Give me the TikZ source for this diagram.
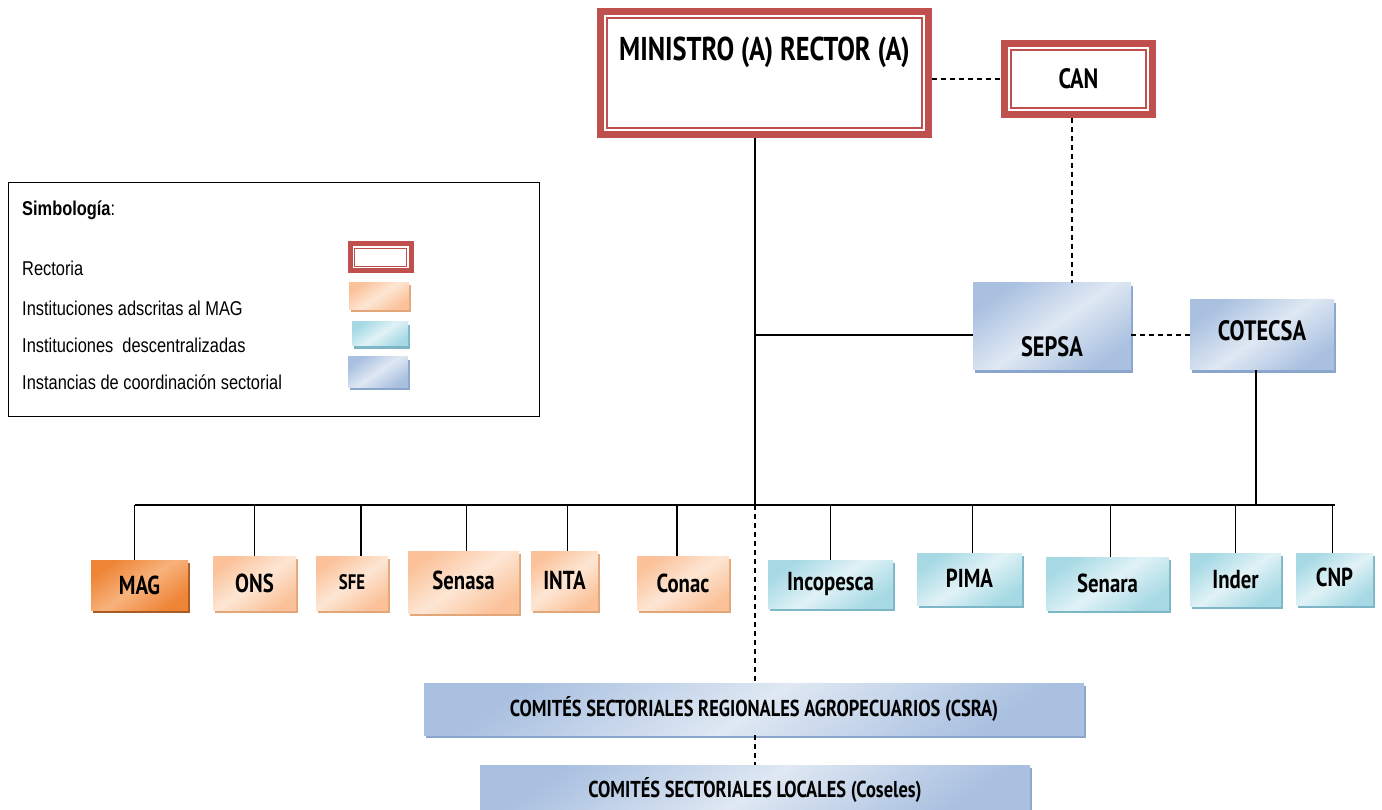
\documentclass[tikz,border=0pt]{standalone}
\usepackage{fontspec}
\setmainfont{PT Sans}
\newfontfamily\boxfont[FakeStretch=0.8]{PT Sans}
\newfontfamily\legfont[FakeStretch=0.82]{Liberation Sans}
\usetikzlibrary{shadows}
\definecolor{redc}{HTML}{C0504D}
\definecolor{blueA}{HTML}{A9C0E0}
\definecolor{blueL}{HTML}{DFE8F3}
\definecolor{blueD}{HTML}{8AA6CC}
\definecolor{cyanA}{HTML}{A6D9E4}
\definecolor{cyanL}{HTML}{E0F2F6}
\definecolor{cyanD}{HTML}{7DB6C6}
\definecolor{orA}{HTML}{FBC29A}
\definecolor{orL}{HTML}{FDE6D4}
\definecolor{orD}{HTML}{E3A678}
\definecolor{magA}{HTML}{EE8436}
\definecolor{magL}{HTML}{F8B27C}
\definecolor{magD}{HTML}{A85C24}
\tikzset{
  rector/.style={draw=redc, line width=7pt, fill=white, inner sep=0pt,
    path picture={\draw[redc,line width=1.5pt]
      ([shift={(6.5pt,-6.5pt)}]path picture bounding box.north west) rectangle
      ([shift={(-6.5pt,6.5pt)}]path picture bounding box.south east);}},
  rectsw/.style={draw=redc, line width=5pt, fill=white, inner sep=0pt,
    path picture={\draw[redc,line width=1.2pt]
      ([shift={(4.6pt,-4.6pt)}]path picture bounding box.north west) rectangle
      ([shift={(-4.6pt,4.6pt)}]path picture bounding box.south east);}},
  bx/.style={rectangle, inner sep=0pt, text=black,
    font=\boxfont\bfseries\fontsize{26}{28}\selectfont},
  bluebox/.style={bx, left color=blueA, right color=blueA, middle color=blueL, shading angle=35,
    drop shadow={shadow xshift=2pt, shadow yshift=-3pt, fill=blueD, opacity=1}},
  cyanbox/.style={bx, left color=cyanA, right color=cyanA, middle color=cyanL, shading angle=35,
    drop shadow={shadow xshift=2pt, shadow yshift=-3pt, fill=cyanD, opacity=1}},
  orbox/.style={bx, left color=orA, right color=orA, middle color=orL, shading angle=35,
    drop shadow={shadow xshift=2pt, shadow yshift=-3pt, fill=orD, opacity=1}},
  magbox/.style={bx, left color=magA, right color=magA, middle color=magL, shading angle=35,
    drop shadow={shadow xshift=2pt, shadow yshift=-3pt, fill=magD, opacity=1}},
  link/.style={line width=1.8pt, black},
  dlink/.style={line width=1.6pt, black, dashed, dash pattern=on 5pt off 4pt},
  legtext/.style={anchor=west, inner sep=0pt, font=\legfont\fontsize{20}{22}\selectfont},
}
\begin{document}
\begin{tikzpicture}[x=1pt,y=-1pt]
\useasboundingbox (0,0) rectangle (1382,810);
\fill[white] (0,0) rectangle (1382,810);

% top
\node[rector, minimum width=328pt, minimum height=123pt,
  label={[anchor=center, yshift=-44pt, font=\boxfont\bfseries\fontsize{33}{35}\selectfont]north:{MINISTRO (A) RECTOR (A)}}]
  (min) at (764.5,73) {};
\node[rector, minimum width=148pt, minimum height=71pt, font=\boxfont\bfseries\fontsize{28}{30}\selectfont]
  (can) at (1078.5,79) {CAN};

\node[bluebox, minimum width=158pt, minimum height=87pt,
  label={[anchor=center, yshift=23pt, font=\boxfont\bfseries\fontsize{28}{30}\selectfont]south:{SEPSA}}]
  (sepsa) at (1052,326.5) {};
\node[bluebox, minimum width=144pt, minimum height=70pt, font=\boxfont\bfseries\fontsize{28}{30}\selectfont]
  (cotecsa) at (1262,335) {\raisebox{8pt}{COTECSA}};

% bottom row
\node[magbox, minimum width=97pt, minimum height=50pt] (mag) at (139.5,585) {\raisebox{-3pt}{MAG}};
\node[orbox, minimum width=83pt, minimum height=54pt] (ons) at (254.5,583) {ONS};
\node[orbox, minimum width=72pt, minimum height=54pt, font=\boxfont\bfseries\fontsize{21}{23}\selectfont] (sfe) at (352,583) {\raisebox{2pt}{SFE}};
\node[orbox, minimum width=111pt, minimum height=62pt] (senasa) at (463.5,582) {\raisebox{4pt}{Senasa}};
\node[orbox, minimum width=67pt, minimum height=59pt] (inta) at (564.5,580.5) {INTA};
\node[orbox, minimum width=92pt, minimum height=54pt] (conac) at (683,583) {\raisebox{-1pt}{Conac}};
\node[cyanbox, minimum width=125pt, minimum height=48pt] (incopesca) at (830.5,584) {Incopesca};
\node[cyanbox, minimum width=105pt, minimum height=52pt] (pima) at (969.5,579) {\raisebox{2pt}{PIMA}};
\node[cyanbox, minimum width=123pt, minimum height=53pt] (senara) at (1107.5,583.5) {Senara};
\node[cyanbox, minimum width=91pt, minimum height=53pt] (inder) at (1235.5,579.5) {Inder};
\node[cyanbox, minimum width=77pt, minimum height=52pt] (cnp) at (1334.5,579) {\raisebox{3pt}{CNP}};

\node[bluebox, minimum width=660pt, minimum height=52pt, font=\boxfont\bfseries\fontsize{23}{25}\selectfont]
  (csra) at (754,709) {COMITÉS SECTORIALES REGIONALES AGROPECUARIOS (CSRA)};
\node[bluebox, minimum width=550pt, minimum height=50pt, font=\boxfont\bfseries\fontsize{23}{25}\selectfont]
  (coseles) at (755,790) {COMITÉS SECTORIALES LOCALES (Coseles)};

% coordinates on the spine
\coordinate (spinebus) at (755,505);
\coordinate (spinemid) at (755,335);

% connectors
\draw[dlink] (min.east |- can.west) -- (can.west);
\draw[dlink] ([xshift=-6.5pt]can.south) -- ([xshift=-6.5pt]can.south |- sepsa.north);
\draw[dlink] (cotecsa.west -| sepsa.east) -- (cotecsa.west);
\draw[link] (min.south -| spinebus) -- (spinebus);
\draw[link] (spinemid) -- (spinemid -| sepsa.west);
\draw[link] ([xshift=-6pt]cotecsa.south) -- ([xshift=-6pt]cotecsa.south |- spinebus);
\draw[link] ([xshift=-5pt]mag.north |- spinebus) -- (cnp.north |- spinebus);
\draw[link] ([xshift=-5pt]mag.north |- spinebus) -- ([xshift=-5pt]mag.north);
\draw[link] (ons.north |- spinebus) -- (ons.north);
\draw[link] ([xshift=9pt]sfe.north |- spinebus) -- ([xshift=9pt]sfe.north);
\draw[link] ([xshift=3pt]senasa.north |- spinebus) -- ([xshift=3pt]senasa.north);
\draw[link] ([xshift=3pt]inta.north |- spinebus) -- ([xshift=3pt]inta.north);
\draw[link] ([xshift=-6pt]conac.north |- spinebus) -- ([xshift=-6pt]conac.north);
\draw[link] (incopesca.north |- spinebus) -- (incopesca.north);
\draw[link] ([xshift=3pt]pima.north |- spinebus) -- ([xshift=3pt]pima.north);
\draw[link] ([xshift=3pt]senara.north |- spinebus) -- ([xshift=3pt]senara.north);
\draw[link] (inder.north |- spinebus) -- (inder.north);
\draw[link] ([xshift=-2pt]cnp.north |- spinebus) -- ([xshift=-2pt]cnp.north);
\draw[dlink] (spinebus) -- (csra.north -| spinebus);
\draw[dlink] (csra.south -| spinebus) -- (coseles.north -| spinebus);

% legend
\node[draw=black, line width=1.5pt, minimum width=531pt, minimum height=234pt, inner sep=0pt] (leg) at (274,299.5) {};
\node[legtext] (legtitle) at (22,210) {\textbf{Simbología}:};
\node[legtext] (legr) at (22,268) {Rectoria};
\node[legtext] (lego) at (22,308) {Instituciones adscritas al MAG};
\node[legtext] (legc) at (22,345) {Instituciones\ \ descentralizadas};
\node[legtext] (legb) at (22,382) {Instancias de coordinación sectorial};
\node[rectsw, minimum width=61pt, minimum height=27pt] (swr) at (380.5,257.5) {};
\node[orbox, minimum width=60pt, minimum height=27pt] (swo) at (379,296) {};
\node[cyanbox, minimum width=56pt, minimum height=24pt] (swc) at (380,334) {};
\node[bluebox, minimum width=60pt, minimum height=30pt] (swb) at (378,372) {};
\end{tikzpicture}
\end{document}
